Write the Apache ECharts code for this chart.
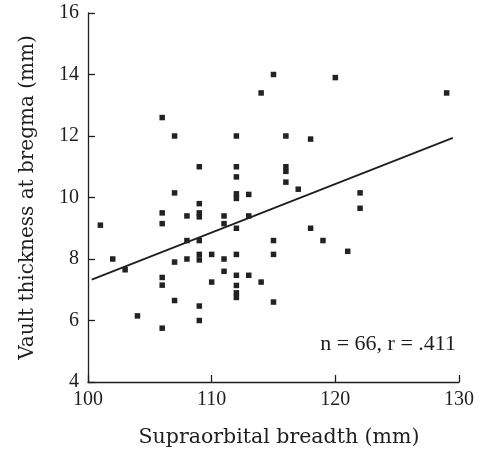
<!DOCTYPE html>
<html>
<head>
<meta charset="utf-8">
<script src="https://cdn.jsdelivr.net/npm/echarts@6/dist/echarts.min.js"></script>
<style>html,body{margin:0;padding:0;background:#fff;}#c{width:484px;height:449px;}</style>
</head>
<body>
<div id="c"></div>
<script>
// Supraorbital breadth (mm)
const breadth = [101,102,103,104,106,106,106,106,106,106,107,107,107,107,108,108,108,
  109,109,109,109,109,109,109,109,109,110,110,111,111,111,111,
  112,112,112,112,112,112,112,112,112,112,112,113,113,113,114,114,
  115,115,115,115,116,116,116,116,117,118,118,119,120,121,122,122,129];
// Vault thickness at bregma (mm)
const thickness = [9.1,8.0,7.65,6.15,12.6,9.5,9.15,7.4,7.15,5.75,12.0,10.15,7.9,6.65,9.4,8.6,8.0,
  11.0,9.8,9.5,9.37,8.6,8.15,7.97,6.47,6.0,8.15,7.25,9.4,9.15,8.0,7.6,
  12.0,11.0,10.67,10.12,9.97,9.0,8.15,7.47,7.14,6.9,6.75,10.1,9.4,7.47,13.4,7.25,
  14.0,8.6,8.15,6.6,12.0,11.0,10.85,10.5,10.27,11.9,9.0,8.6,13.9,8.25,10.15,9.65,13.4];
// regression line end points
const lineX = [100.3, 129.5];
const lineY = [7.33, 11.94];
const xTicks = [100, 110, 120, 130];
const yTicks = [4, 6, 8, 10, 12, 14, 16];
const annotation = 'n = 66, r = .411';

const pts = breadth.map((b, i) => [b, thickness[i]]);
const linePts = lineX.map((x, i) => [x, lineY[i]]);
const ink = '#1e1e1e';
const serif = '"Liberation Serif", "DejaVu Serif", serif';
const titleFont = '"DejaVu Serif", serif';

const chart = echarts.init(document.getElementById('c'), null, {renderer: 'canvas'});
chart.setOption({
  animation: false,
  backgroundColor: '#fff',
  grid: {left: 88, right: 25, top: 13, bottom: 67, containLabel: false, outerBoundsMode: 'none'},
  xAxis: {
    type: 'value', min: xTicks[0], max: xTicks[xTicks.length - 1], interval: 10,
    splitLine: {show: false},
    axisLine: {show: true, onZero: false, lineStyle: {color: ink, width: 1.3}},
    axisTick: {show: true, inside: true, length: 7, lineStyle: {color: ink, width: 1.3}},
    axisLabel: {color: ink, fontFamily: serif, fontSize: 20, margin: 8},
    name: 'Supraorbital breadth (mm)', nameLocation: 'middle', nameGap: 45,
    nameTextStyle: {color: ink, fontFamily: titleFont, fontSize: 20.5, padding: [0, 0, 0, 11]}
  },
  yAxis: {
    type: 'value', min: yTicks[0], max: yTicks[yTicks.length - 1], interval: 2,
    splitLine: {show: false},
    axisLine: {show: true, onZero: false, lineStyle: {color: ink, width: 1.3}},
    axisTick: {show: true, inside: true, length: 7, lineStyle: {color: ink, width: 1.3}},
    axisLabel: {color: ink, fontFamily: serif, fontSize: 20, margin: 9},
    name: 'Vault thickness at bregma (mm)', nameLocation: 'middle', nameGap: 50,
    nameTextStyle: {color: ink, fontFamily: titleFont, fontSize: 20}
  },
  series: [
    {
      type: 'scatter', data: pts, symbol: 'rect', symbolSize: 5.5,
      itemStyle: {color: '#222', opacity: 1}, z: 3
    },
    {
      type: 'line', data: linePts, showSymbol: false, symbol: 'none',
      lineStyle: {color: ink, width: 1.7}, z: 2
    }
  ],
  graphic: [
    {
      type: 'text', right: 28, top: 333,
      style: {text: annotation, fill: ink, font: '22px "Liberation Serif", serif', textAlign: 'right'}
    }
  ]
});
</script>
</body>
</html>
